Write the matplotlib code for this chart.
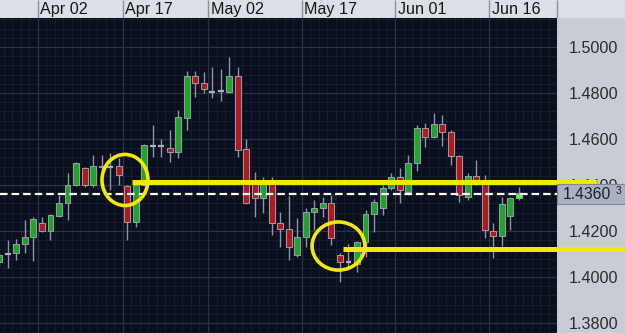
import numpy as np
import pandas as pd
import matplotlib
matplotlib.use("Agg")
import matplotlib.pyplot as plt
from matplotlib.patches import Ellipse, Rectangle
import matplotlib.transforms as mtransforms

plt.rcParams['font.family'] = ['Liberation Sans', 'DejaVu Sans']

# ---------------- data ----------------
dates = pd.bdate_range('2011-03-28', periods=62)
opens = [1.4067, 1.4097, 1.4103, 1.4142, 1.4175, 1.4233, 1.4201, 1.4265, 1.4320, 1.4400,
         1.4473, 1.4400, 1.4482, 1.4477, 1.4483, 1.4396, 1.4241, 1.4400, 1.4571, 1.4571,
         1.4559, 1.4545, 1.4690, 1.4874, 1.4842, 1.4806, 1.4809, 1.4806, 1.4874, 1.4555,
         1.4410, 1.4342, 1.4410, 1.4233, 1.4207, 1.4096, 1.4175, 1.4284, 1.4299, 1.4323,
         1.4094, 1.4067, 1.4059, 1.4153, 1.4274, 1.4299, 1.4386, 1.4433, 1.4371, 1.4497,
         1.4647, 1.4610, 1.4665, 1.4632, 1.4526, 1.4347, 1.4439, 1.4422, 1.4201, 1.4178,
         1.4265, 1.4342]
closes = [1.4096, 1.4099, 1.4142, 1.4175, 1.4251, 1.4201, 1.4270, 1.4320, 1.4400, 1.4497,
          1.4400, 1.4483, 1.4478, 1.4477, 1.4442, 1.4241, 1.4400, 1.4574, 1.4571, 1.4571,
          1.4545, 1.4697, 1.4874, 1.4842, 1.4816, 1.4806, 1.4809, 1.4874, 1.4552, 1.4320,
          1.4342, 1.4410, 1.4233, 1.4207, 1.4132, 1.4173, 1.4284, 1.4299, 1.4323, 1.4168,
          1.4067, 1.4067, 1.4153, 1.4274, 1.4327, 1.4386, 1.4433, 1.4378, 1.4497, 1.4647,
          1.4610, 1.4665, 1.4629, 1.4526, 1.4357, 1.4439, 1.4422, 1.4204, 1.4178, 1.4317,
          1.4342, 1.4367]
highs = [1.4110, 1.4161, 1.4164, 1.4248, 1.4262, 1.4261, 1.4275, 1.4357, 1.4451, 1.4502,
         1.4480, 1.4530, 1.4530, 1.4538, 1.4516, 1.4400, 1.4405, 1.4580, 1.4661, 1.4599,
         1.4639, 1.4726, 1.4897, 1.4897, 1.4893, 1.4914, 1.4903, 1.4955, 1.4914, 1.4599,
         1.4458, 1.4436, 1.4436, 1.4284, 1.4352, 1.4255, 1.4299, 1.4335, 1.4349, 1.4357,
         1.4103, 1.4143, 1.4155, 1.4291, 1.4338, 1.4400, 1.4451, 1.4473, 1.4530, 1.4661,
         1.4668, 1.4712, 1.4704, 1.4640, 1.4530, 1.4451, 1.4509, 1.4443, 1.4233, 1.4349,
         1.4349, 1.4390]
lows = [1.4050, 1.4039, 1.4074, 1.4106, 1.4071, 1.4195, 1.4161, 1.4260, 1.4248, 1.4398,
        1.4393, 1.4393, 1.4460, 1.4378, 1.4400, 1.4161, 1.4219, 1.4395, 1.4523, 1.4523,
        1.4501, 1.4516, 1.4639, 1.4784, 1.4800, 1.4777, 1.4767, 1.4799, 1.4520, 1.4318,
        1.4262, 1.4277, 1.4183, 1.4132, 1.4074, 1.4088, 1.4132, 1.4204, 1.4262, 1.4139,
        1.3980, 1.4030, 1.4023, 1.4088, 1.4197, 1.4270, 1.4380, 1.4320, 1.4357, 1.4462,
        1.4567, 1.4603, 1.4570, 1.4487, 1.4327, 1.4335, 1.4400, 1.4168, 1.4081, 1.4135,
        1.4204, 1.4335]

tick_dates = ['2011-04-02', '2011-04-17', '2011-05-02', '2011-05-17', '2011-06-01', '2011-06-16']
tick_labels = ['Apr 02', 'Apr 17', 'May 02', 'May 17', 'Jun 01', 'Jun 16']
price_ticks = [1.38, 1.40, 1.42, 1.44, 1.46, 1.48, 1.50]
current_price = 1.4360

# annotations (candle index, price)
circle_centers = [(14.75, 1.4422), (39.82, 1.4135)]
circle_sizes = [(5.4, 0.0222), (6.2, 0.0209)]
level_prices = [1.4414, 1.4122]
level_starts = [15.57, 40.35]
level_ends = [70.2, 76.0]

# ---------------- style ----------------
BG = '#0a0f1d'
PANEL = '#c8ccd5'
STRIP = '#dcdfe6'
GREEN = '#1ea52a'
RED = '#b3181c'
WICK = '#8e96a6'
YELLOW = '#f2ea05'

W, H = 625, 333
fig = plt.figure(figsize=(W / 100, H / 100), dpi=100, facecolor=PANEL)
ax = fig.add_axes([0, 0, 557 / W, 315 / H])
ax.set_facecolor(BG)
x_lo, x_hi = 0.07, 65.49
ax.set_xlim(x_lo, x_hi)
ax.set_ylim(1.3757, 1.5126)
for s in ax.spines.values():
    s.set_visible(False)

# grid
minor_x = np.arange(-0.5, 66, 1.0)
ax.vlines(minor_x, 1.3, 1.6, color='#161d31', lw=0.7, zorder=0)
minor_y = np.arange(1.372, 1.516, 0.004)
ax.hlines(minor_y, -1, 70, color='#161d31', lw=0.7, zorder=0)
ax.hlines(price_ticks, -1, 70, color='#27324b', lw=0.9, zorder=0.5)

idx = np.arange(len(opens))
tick_pos = [dates.searchsorted(pd.Timestamp(d)) - 0.5 for d in tick_dates]
ax.vlines(tick_pos, 1.3, 1.6, color='#27324b', lw=0.9, zorder=0.5)

# candles
o = np.array(opens); c = np.array(closes); h = np.array(highs); l = np.array(lows)
ax.vlines(idx, l, h, color=WICK, lw=1.0, zorder=2)
bw = 0.7
for i in idx:
    if abs(c[i] - o[i]) < 0.0002:
        ax.hlines(c[i], i - bw / 2, i + bw / 2, color='#a9b0bc', lw=1.6, zorder=3)
        continue
    if i == len(o) - 1:
        col = '#3dff3d'
    else:
        col = GREEN if c[i] > o[i] else RED
    ax.bar(i, abs(c[i] - o[i]), bottom=min(o[i], c[i]), width=bw, color=col,
           edgecolor='#9a9ea8', linewidth=0.7, zorder=3)

# current price dashed line
ax.axhline(current_price, color='white', lw=1.6, dashes=(3.4, 1.8), zorder=4)

# right price axis
ax.yaxis.tick_right()
ax.set_yticks(price_ticks)
ax.set_yticklabels([f'{p:.4f}' for p in price_ticks])
ax.tick_params(axis='y', length=0, pad=8.6, labelsize=11.6, labelcolor='#2a2a2a')
ax.set_xticks([])

# yellow annotations
for (cx, cy), (ew, eh) in zip(circle_centers, circle_sizes):
    ax.add_patch(Ellipse((cx, cy), ew, eh, fill=False, edgecolor=YELLOW, lw=2.6,
                         zorder=5, clip_on=False))
for p, x0, x1 in zip(level_prices, level_starts, level_ends):
    ax.plot([x0, x1], [p, p], color=YELLOW, lw=3.6, solid_capstyle='butt',
            zorder=5, clip_on=False)

# current price label box
bt = mtransforms.blended_transform_factory(fig.transFigure, ax.transData)
box_h = 20 / 2300
ax.add_patch(Rectangle((557 / W, current_price - box_h / 2), 68 / W, box_h,
                       transform=bt, facecolor='#a9b1c3', edgecolor='#7f8799',
                       lw=0.8, zorder=6, clip_on=False))
ax.text(563 / W, current_price, f'{current_price:.4f}', transform=bt, ha='left',
        va='center', fontsize=11.3, color='#1e1e1e', zorder=7, clip_on=False)
ax.text(616 / W, current_price + 0.0014, '3', transform=bt, ha='left', va='center',
        fontsize=7.5, color='#1e1e1e', zorder=7, clip_on=False)

# top date strip
sax = fig.add_axes([0, 315 / H, 1, 18 / H])
sax.set_facecolor(STRIP)
sax.set_xlim(x_lo, x_lo + (x_hi - x_lo) * W / 557)
sax.set_ylim(0, 1)
sax.set_xticks([]); sax.set_yticks([])
for s in sax.spines.values():
    s.set_visible(False)
sax.vlines(tick_pos + [x_hi], 0, 1, color='#8c919c', lw=1.0)
for p, lab in zip(tick_pos, tick_labels):
    sax.text(p + 0.3, 0.45, lab, ha='left', va='center', fontsize=11.6, color='#151515')

fig.savefig('out.png', dpi=100, facecolor=fig.get_facecolor())
